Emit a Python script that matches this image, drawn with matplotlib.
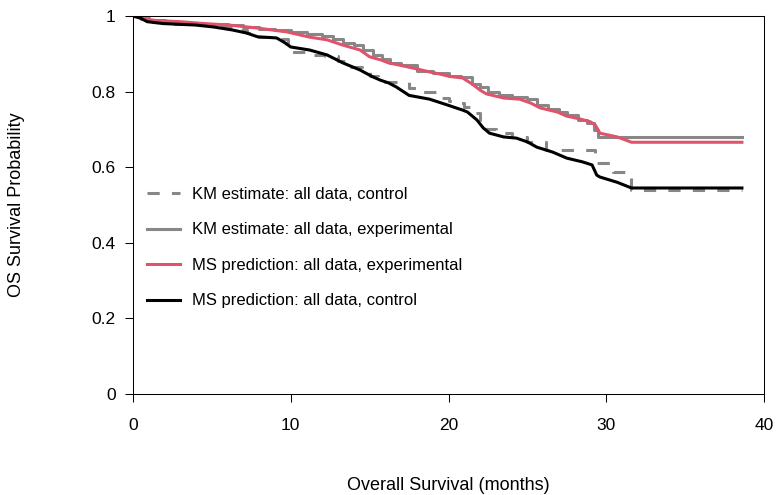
import matplotlib
matplotlib.use("Agg")
import matplotlib.pyplot as plt

# KM estimate: all data, control (step)
km_ctrl_t = [0, 0.5, 1.0, 2, 4, 5, 6.3, 7.2, 8.0, 9.2, 9.8, 10.7, 11.5, 12.2, 13.0, 13.8, 14.5, 15.0, 15.5,
             16.0, 16.7, 17.5, 18.0, 19.3, 20.0, 20.5, 21.0, 21.5, 22.0, 22.4, 23.0, 24.0, 25.0, 26.2,
             29.3, 30.4, 31.6, 38.6]
km_ctrl_s = [1, 0.993, 0.985, 0.98, 0.976, 0.971, 0.963, 0.955, 0.945, 0.94, 0.905, 0.905, 0.897, 0.895,
             0.88, 0.865, 0.855, 0.84, 0.828, 0.825, 0.825, 0.81, 0.799, 0.783, 0.775, 0.77, 0.76, 0.743,
             0.72, 0.70, 0.69, 0.68, 0.667, 0.646, 0.611, 0.587, 0.54, 0.54]

# KM estimate: all data, experimental (step)
km_exp_t = [0, 0.5, 1.0, 2, 3, 4.5, 6, 7, 8, 9, 10.0, 11, 12, 12.7, 13.3, 14.0, 14.6, 15.2, 15.8, 16.3,
            17, 18, 19, 20, 20.8, 21.5, 22.0, 22.5, 23.2, 24.0, 25.0, 25.6, 26.3, 27.0, 27.5, 28.2,
            28.8, 29.2, 29.5, 38.6]
km_exp_s = [1, 0.995, 0.99, 0.985, 0.982, 0.978, 0.975, 0.97, 0.966, 0.962, 0.958, 0.952, 0.947, 0.94,
            0.929, 0.923, 0.91, 0.897, 0.885, 0.876, 0.87, 0.855, 0.85, 0.842, 0.838, 0.82, 0.812, 0.80,
            0.79, 0.785, 0.78, 0.765, 0.755, 0.745, 0.738, 0.725, 0.717, 0.698, 0.680, 0.680]

# MS prediction: all data, experimental
ms_exp_t = [0, 0.6, 1.5, 3, 4.5, 6.1, 7.9, 9.75, 11.2, 12.3, 13.3, 14.4, 15.0, 15.7, 16.2, 16.9, 18.0,
            18.8, 19.5, 20.1, 20.9, 21.5, 22.0, 22.4, 23.5, 24.5, 25.2, 25.8, 26.9, 27.5, 28.3, 29.0,
            29.3, 29.6, 30.7, 31.6, 38.6]
ms_exp_s = [1, 0.992, 0.988, 0.985, 0.98, 0.976, 0.968, 0.958, 0.944, 0.937, 0.923, 0.910, 0.892, 0.884,
            0.876, 0.870, 0.86, 0.852, 0.846, 0.84, 0.836, 0.82, 0.804, 0.794, 0.783, 0.78, 0.77, 0.757,
            0.746, 0.735, 0.728, 0.72, 0.712, 0.69, 0.68, 0.666, 0.666]

# MS prediction: all data, control
ms_ctrl_t = [0, 0.45, 0.9, 1.9, 4.0, 5.1, 6.3, 7.2, 7.9, 9.1, 9.6, 10.0, 11.2, 12.3, 13.3, 14.4, 15.2,
             15.7, 16.2, 16.7, 17.5, 18.8, 19.9, 20.9, 21.2, 21.8, 22.2, 22.6, 23.5, 24.3, 25.0, 25.6,
             26.6, 27.5, 28.5, 29.1, 29.4, 29.6, 30.7, 31.6, 38.6]
ms_ctrl_s = [1, 0.995, 0.985, 0.98, 0.976, 0.971, 0.963, 0.955, 0.945, 0.942, 0.93, 0.918, 0.91, 0.897,
             0.876, 0.857, 0.839, 0.83, 0.823, 0.812, 0.79, 0.78, 0.765, 0.751, 0.746, 0.725, 0.704,
             0.69, 0.68, 0.677, 0.667, 0.653, 0.64, 0.624, 0.614, 0.606, 0.579, 0.574, 0.56, 0.545, 0.545]

labels = ["KM estimate: all data, control", "KM estimate: all data, experimental",
          "MS prediction: all data, experimental", "MS prediction: all data, control"]
x_ticks = [0, 10, 20, 30, 40]
y_ticks = [0, 0.2, 0.4, 0.6, 0.8, 1]
y_ticklabels = ["0", "0.2", "0.4", "0.6", "0.8", "1"]

plt.rcParams['font.family'] = ['Liberation Sans', 'DejaVu Sans']

GRAY = '#878787'
RED = '#DF536B'

fig = plt.figure(figsize=(7.76, 4.95), dpi=100)
ax = fig.add_axes([133/776, 1-394/495, (764-133)/776, (394-16)/495])

lw = 2.2
l1, = ax.plot(km_ctrl_t, km_ctrl_s, drawstyle='steps-post', color=GRAY, lw=lw, dashes=(4, 4),
              dash_capstyle='butt', label=labels[0])
l2, = ax.plot(km_exp_t, km_exp_s, drawstyle='steps-post', color=GRAY, lw=lw, label=labels[1])
l3, = ax.plot(ms_exp_t, ms_exp_s, color=RED, lw=lw, label=labels[2])
l4, = ax.plot(ms_ctrl_t, ms_ctrl_s, color='black', lw=lw, label=labels[3])

ax.set_xlim(0, 40)
ax.set_ylim(0, 1)
ax.set_xticks(x_ticks)
ax.set_yticks(y_ticks)
ax.set_yticklabels(y_ticklabels)
ax.tick_params(axis='both', direction='out', length=5.5, width=0.75, color='black', labelsize=12.5)
ax.tick_params(axis='x', pad=12)
ax.tick_params(axis='y', pad=7)
for s in ax.spines.values():
    s.set_linewidth(0.75)
    s.set_color('black')

ax.set_xlabel("Overall Survival (months)", fontsize=13, va='center')
ax.xaxis.set_label_coords(0.5, (394-485)/378)
ax.set_ylabel("OS Survival Probability", fontsize=13, va='center')
ax.yaxis.set_label_coords((17-133)/631, 0.5)

ax.legend(handles=[l1, l2, l3, l4], loc='upper left', bbox_to_anchor=(0.022, 0.548),
          frameon=False, borderpad=0, borderaxespad=0, handlelength=2.0, handletextpad=0.72,
          labelspacing=1.23, fontsize=12)

fig.savefig("out.png", dpi=100)
